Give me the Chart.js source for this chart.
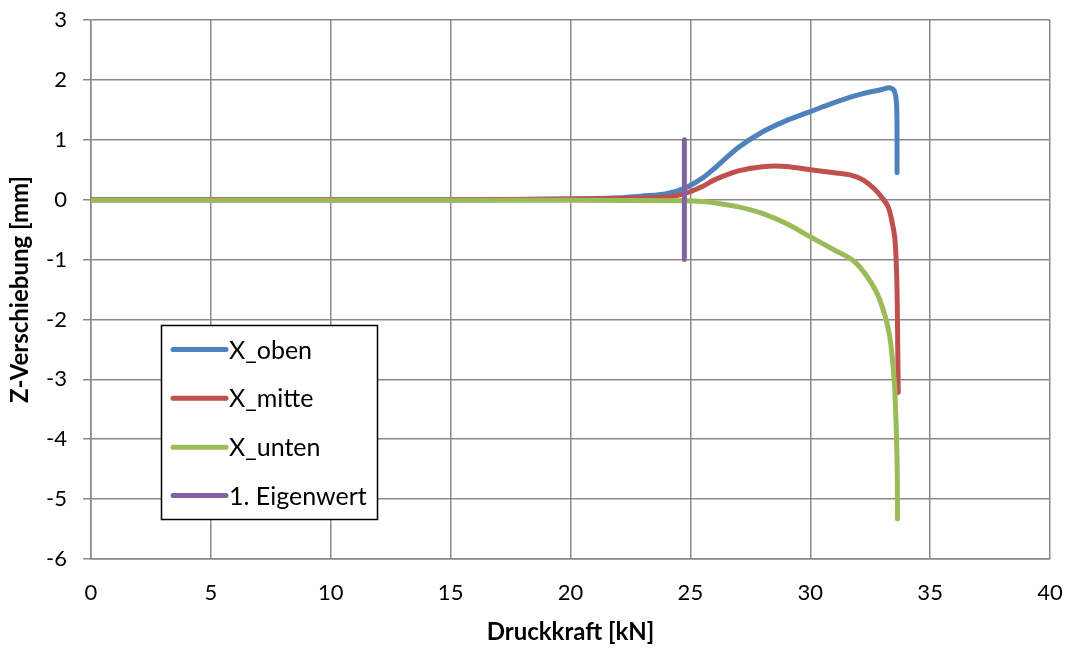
<!DOCTYPE html>
<html>
<head>
<meta charset="utf-8">
<script src="https://cdn.jsdelivr.net/npm/chart.js@4.4.1/dist/chart.umd.min.js"></script>
<style>
html,body{margin:0;padding:0;background:#fff;}
#wrap{width:1068px;height:648px;position:relative;}
</style>
</head>
<body>
<div id="wrap"><canvas id="c" width="1068" height="648"></canvas></div>
<script>
// ---- data ----
const xTicks = [0, 5, 10, 15, 20, 25, 30, 35, 40];
const yTicks = [-6, -5, -4, -3, -2, -1, 0, 1, 2, 3];

const obenX = [0, 5, 10, 15, 20, 22, 23, 24, 24.75, 25.5, 26, 27, 28, 29, 30, 31, 32, 33, 33.3, 33.5, 33.6, 33.62, 33.62];
const obenY = [0, 0, 0, 0, 0.01, 0.03, 0.06, 0.1, 0.19, 0.36, 0.52, 0.87, 1.13, 1.32, 1.47, 1.62, 1.75, 1.84, 1.87, 1.82, 1.6, 1.0, 0.45];

const mitteX = [0, 5, 10, 15, 20, 22, 24, 24.75, 25.5, 26, 27, 28, 29, 30, 31, 31.7, 32.2, 32.65, 33, 33.25, 33.4, 33.53, 33.6, 33.63, 33.65, 33.67];
const mitteY = [0, 0, 0, 0, 0.01, 0.02, 0.04, 0.1, 0.22, 0.33, 0.48, 0.55, 0.555, 0.5, 0.45, 0.41, 0.33, 0.19, 0.03, -0.12, -0.35, -0.65, -1.2, -1.75, -2.5, -3.22];

const untenX = [0, 5, 10, 15, 20, 24.75, 25.5, 26, 27, 28, 29, 30, 31, 31.8, 32.4, 32.9, 33.3, 33.5, 33.55, 33.6, 33.63, 33.64];
const untenY = [-0.01, -0.01, -0.01, -0.01, -0.01, -0.02, -0.03, -0.05, -0.12, -0.23, -0.4, -0.62, -0.84, -1.02, -1.3, -1.67, -2.25, -3.0, -3.4, -4.0, -4.6, -5.33];

const eigenX = [24.75, 24.75];
const eigenY = [-1, 1];

const seriesNames = ['X_oben', 'X_mitte', 'X_unten', '1. Eigenwert'];
const seriesColors = ['#4F81BD', '#C0504D', '#9BBB59', '#8064A2'];

const pts = (xs, ys) => xs.map((x, i) => ({x: x, y: ys[i]}));

const FONT = 'Lato, "Open Sans", sans-serif';
const GRID = '#898989';

// custom legend inside plot area
const insideLegend = {
  id: 'insideLegend',
  afterDatasetsDraw(chart) {
    const ctx = chart.ctx;
    const box = {l: 161.5, t: 325.5, r: 377.5, b: 519.5};
    ctx.save();
    ctx.fillStyle = '#fff';
    ctx.fillRect(box.l, box.t, box.r - box.l, box.b - box.t);
    ctx.strokeStyle = '#000';
    ctx.lineWidth = 1.5;
    ctx.strokeRect(box.l, box.t, box.r - box.l, box.b - box.t);
    const rows = [349.5, 398.3, 447.2, 495.5];
    ctx.font = '25px ' + FONT;
    ctx.textBaseline = 'middle';
    ctx.textAlign = 'left';
    chart.data.datasets.forEach((ds, i) => {
      const y = rows[i];
      ctx.strokeStyle = ds.borderColor;
      ctx.lineWidth = 5;
      ctx.lineCap = 'round';
      ctx.beginPath();
      ctx.moveTo(173, y);
      ctx.lineTo(226, y);
      ctx.stroke();
      ctx.fillStyle = '#000';
      ctx.fillText(ds.label, 229, y + 1);
    });
    ctx.restore();
  }
};

const datasets = [
  {label: seriesNames[0], data: pts(obenX, obenY), borderColor: seriesColors[0], order: 3},
  {label: seriesNames[1], data: pts(mitteX, mitteY), borderColor: seriesColors[1], order: 2},
  {label: seriesNames[2], data: pts(untenX, untenY), borderColor: seriesColors[2], order: 1},
  {label: seriesNames[3], data: pts(eigenX, eigenY), borderColor: seriesColors[3], order: 0}
].map(d => Object.assign(d, {
  borderWidth: 5, pointRadius: 0, tension: 0.3, fill: false,
  borderCapStyle: 'round', borderJoinStyle: 'round', showLine: true
}));

new Chart(document.getElementById('c'), {
  type: 'scatter',
  data: {datasets: datasets},
  plugins: [insideLegend],
  options: {
    responsive: false,
    animation: false,
    layout: {padding: {top: 20, right: 18, bottom: 0, left: 0}},
    plugins: {legend: {display: false}, tooltip: {enabled: false}},
    scales: {
      x: {
        type: 'linear', min: 0, max: 40,
        afterBuildTicks: s => { s.ticks = xTicks.map(v => ({value: v})); },
        afterFit: s => { s.height = 89; s.paddingLeft = 0; s.paddingRight = 0; },
        grid: {color: GRID, lineWidth: 1.5, drawTicks: false},
        border: {color: GRID, width: 1.5},
        ticks: {color: '#000', font: {family: FONT, size: 22}, padding: 21, maxRotation: 0},
        title: {display: true, text: 'Druckkraft [kN]', color: '#000',
                font: {family: FONT, size: 24, weight: 'bold'}, padding: {top: 0, bottom: 1}}
      },
      y: {
        type: 'linear', min: -6, max: 3,
        afterBuildTicks: s => { s.ticks = yTicks.map(v => ({value: v})); },
        afterFit: s => { s.width = 91; s.paddingTop = 0; s.paddingBottom = 0; },
        grid: {color: GRID, lineWidth: 1.5, drawTicks: true, tickLength: 8},
        border: {color: GRID, width: 1.5},
        ticks: {color: '#000', font: {family: FONT, size: 22}, padding: 16},
        title: {display: true, text: 'Z-Verschiebung [mm]', color: '#000',
                font: {family: FONT, size: 24, weight: 'bold'}, padding: {top: 6, bottom: 0}}
      }
    }
  }
});
</script>
</body>
</html>
